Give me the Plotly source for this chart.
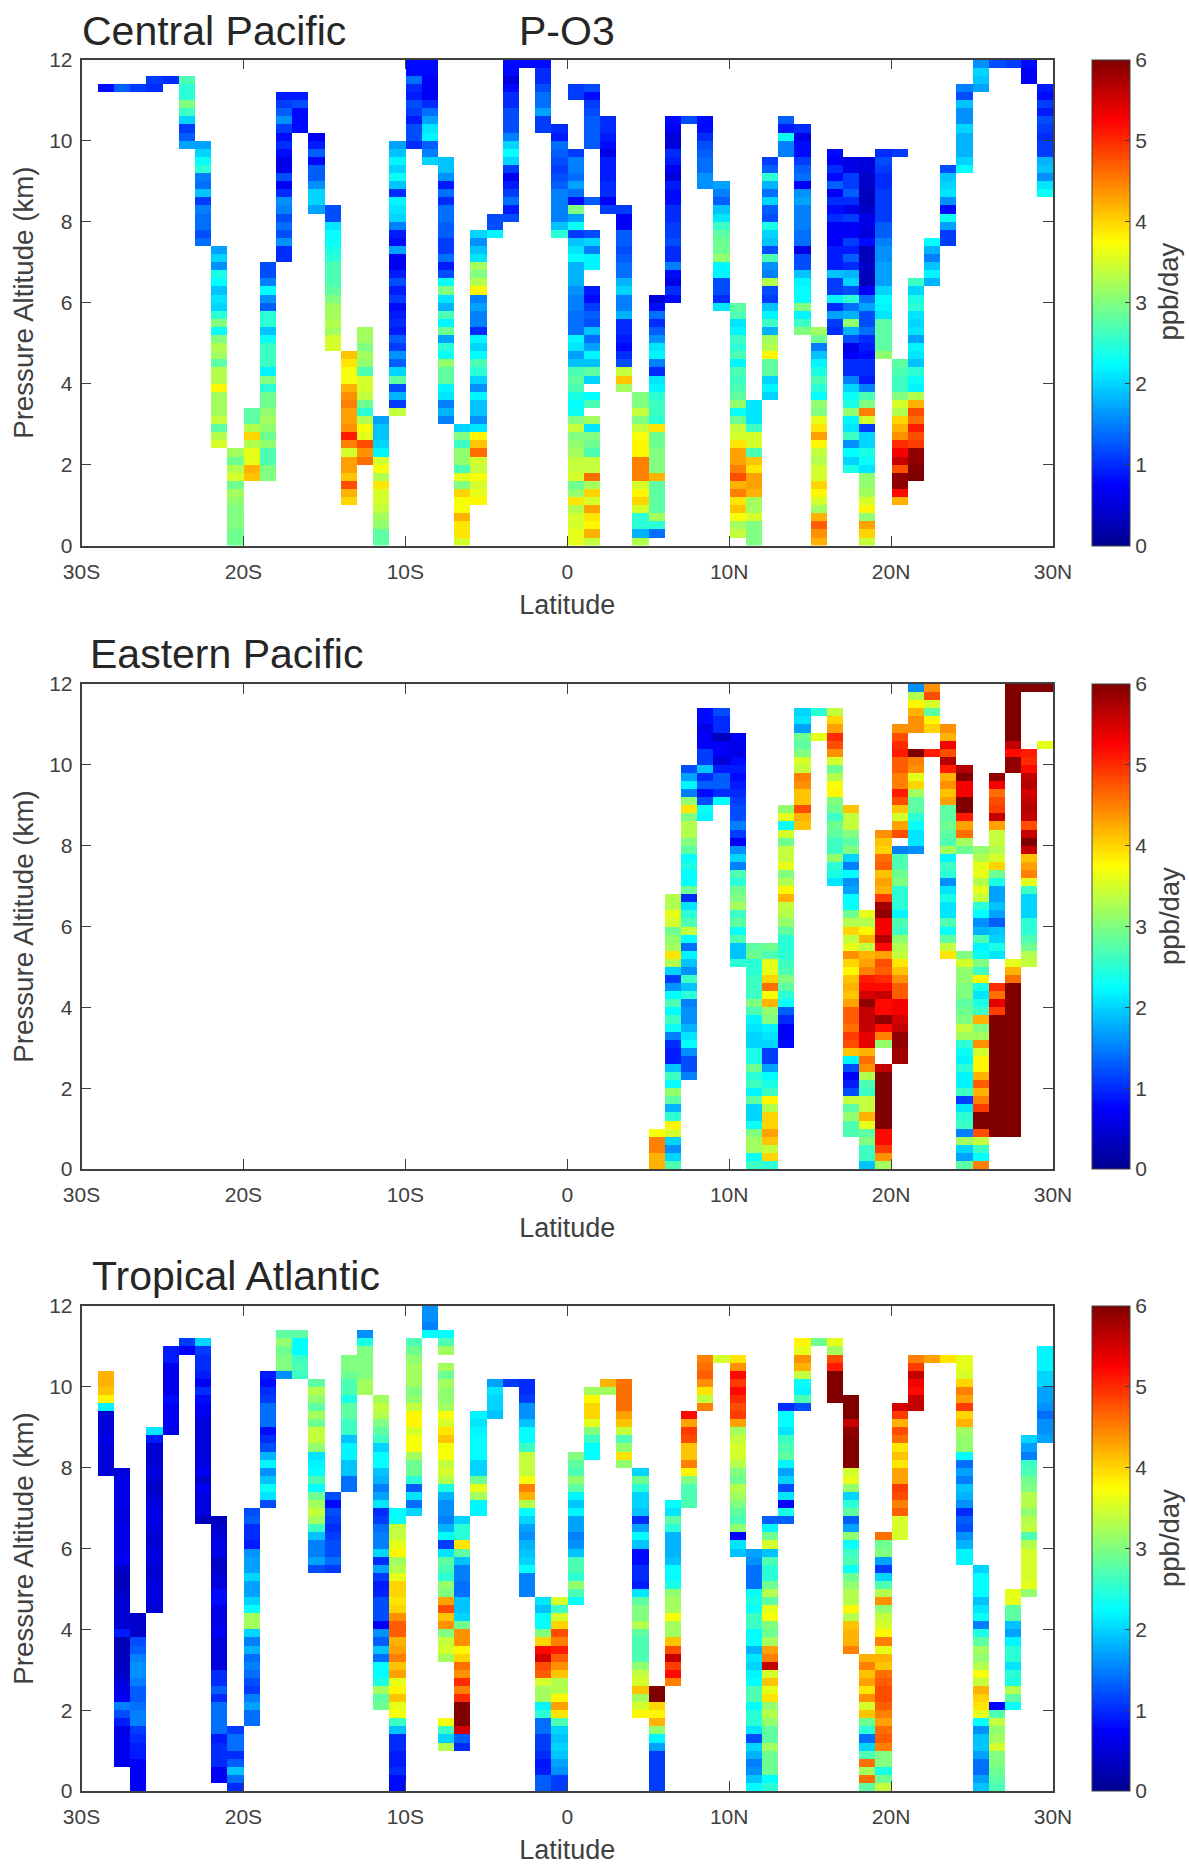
import plotly.graph_objects as go

_ = None
# Each column: (latitude of the cell's south edge, index of its top row counted down from 12 km, values from top to bottom)
# Rows are 0.2 km deep; values are ppb/day.
central_pacific = [
 (-29,3,[.8]),(-28,3,[1.3]),(-27,3,[1.1]),(-26,2,[1.1,1.0]),(-25,2,[1.0]),
 (-24,2,[2.7,2.5,2.5,3.0,2.6,2.0,1.1,1.3,1.7]),
 (-23,10,[1.7,2.0,2.3,2.5,1.5,1.4,1.9,1.1,1.5,1.4,1.4,1.2,1.4]),
 (-22,23,[1.7,2.0,1.6,2.4,2.25,1.9,2.1,2.0,2.5,3.0,2.3,3.0,3.3,3.2,2.8,3.3,3.3,3.8,3.2,3.2,3.2,3.4,2.8,3.3,3.5]),
 (-21,48,[3.2,2.9,3.3,3.5,2.9,3.2,3.1,3.0,3.0,3.0,2.9,2.9]),
 (-20,43,[2.8,2.8,3.3,4.0,3.3,3.6,3.6,4.2,4.1]),
 (-19,25,[1.2,1.2,1.5,2.25,1.6,1.3,2.5,2.5,1.9,2.3,2.6,2.6,2.6,2.2,3.0,2.5,2.9,2.9,3.1,3.2,3.1,2.9,3.1,2.7,2.7,3.0,3.0]),
 (-18,4,[.9,1.1,1.3,1.6,1.1,.8,1.0,.8,.6,.6,1.2,.7,1.0,1.6,1.5,1.2,1.4,1.2,1.6,1.0,1.0]),
 (-17,4,[.9,1.2,.8,.8,.8]),
 (-16,9,[.7,.9,1.3,.8,1.3,1.3,1.6,2.0,2.0,1.7]),
 (-15,18,[1.2,1.2,2.1,2.25,2.3,2.4,2.5,2.7,2.7,2.7,2.8,3.0,3.2,3.2,3.3,3.2,3.5,3.5]),
 (-14,36,[4.1,3.9,3.7,3.7,4.2,4.4,4.5,4.3,4.3,4.4,5.1,4.5,3.5,4.3,4.3,4.1,4.8,4.2,4.0]),
 (-13,33,[3.2,3.2,3.0,3.2,3.1,2.7,3.5,3.5,3.4,2.9,2.5,3.3,3.7,3.6,4.8,4.4,4.6]),
 (-12,44,[1.7,1.9,1.9,2.0,2.2,3.5,3.7,3.3,3.9,3.5,3.5,3.4,3.2,3.1,2.8,2.8]),
 (-11,10,[1.7,1.9,2.2,2.0,2.3,1.9,1.0,2.2,2.1,2.0,1.5,.9,.8,1.7,.7,.7,.9,1.2,.9,1.1,.8,.9,1.0,.9,1.3,1.1,1.6,1.3,2.0,2.8,1.2,1.8,1.1,3.4]),
 (-10,0,[.8,.8,1.4,1.0,.9,1.2,1.1,.9,1.2,1.2,1.0]),
 (-9,0,[.8,.8,.7,.7,.7,1.0,1.4,1.7,2.1,2.2,1.3,1.5,2.0]),
 (-8,12,[1.9,1.9,1.6,.9,1.4,1.0,1.4,1.4,1.3,1.3,1.1,1.1,1.4,.9,1.2,2.3,3.0,2.1,1.8,2.7,2.2,2.9,1.7,2.5,2.3,3.1,2.8,2.8,2.2,2.1,1.5,1.8,1.5]),
 (-7,45,[2.0,3.0,2.6,3.1,3.1,2.7,3.6,3.0,4.0,3.7,3.7,4.2,3.9,3.9,3.5]),
 (-6,21,[2.0,1.6,1.9,2.1,3.2,3.0,3.3,3.8,1.5,1.7,1.5,1.5,1.0,2.2,2.0,2.25,2.7,2.5,2.0,1.6,2.2,1.9,1.9,1.6,2.1,3.8,4.1,4.6,3.5,3.4,3.7,3.5,3.6,3.8]),
 (-5,19,[1.2,1.2,2.2]),
 (-4,0,[.8,.8,.5,.8,1.0,1.0,1.2,1.2,1.2,1.5,2.0,2.25,2.0,1.1,.7,.9,1.1,1.4,.9,1.2]),
 (-3,0,[.8]),
 (-2,0,[.8,1.0,1.0,1.2,1.4,1.4,1.7,1.1,1.1]),
 (-1,8,[1.0,.9,1.4,1.3,1.2,1.1,1.2,1.3,1.5,1.5,1.5,1.5,1.9,2.5]),
 (0,3,[1.1,1.1,_,_,_,_,_,_,1.1,1.5,1.5,1.4,1.7,1.4,.8,3.0,1.7,2.3,1.1,1.9,2.1,2.25,1.8,1.8,1.8,1.6,1.5,1.5,1.4,1.4,1.4,2.2,2.1,1.7,1.9,2.7,2.8,2.7,2.4,2.25,2.3,3.0,3.4,3.0,3.1,3.2,3.4,3.4,3.5,2.9,3.1,3.9,3.3,3.5,3.5,3.6,3.6]),
 (1,3,[1.2,.8,1.1,1.2,1.3,1.3,1.3,1.3,_,_,_,_,_,_,1.3,_,_,_,1.2,2.0,1.5,2.2,2.2,_,_,.9,.8,1.1,1.3,1.2,1.9,1.4,1.7,2.2,1.9,2.8,2.0,_,2.25,2.7,_,3.2,2.1,3.0,2.9,2.7,3.4,3.4,4.6,3.2,4.0,3.5,4.3,3.9,3.8,4.2,3.4]),
 (2,7,[1.0,1.0,.9,.8,.6,.9,.9,.9,1.0,1.0,.7,1.1]),
 (3,18,[1.1,.7,.7,1.3,1.3,1.2,1.3,1.4,1.4,1.8,2.0,1.5,1.5,1.8,1.0,1.0,.9,.8,1.0,1.2,3.4,4.1,3.2]),
 (4,41,[3.0,3.0,3.4,3.0,3.4,3.7,3.8,3.8,4.5,4.5,4.5,3.5,3.8,4.0,3.5,2.5,2.5,1.8,3.3]),
 (5,29,[.5,.8,1.4,1.0,1.3,1.6,2.1,2.2,1.5,1.0,2.1,2.2,2.5,2.6,2.6,2.5,3.9,2.9,2.9,3.0,3.0,3.0,4.2,2.8,2.8,2.8,2.8,3.2,2.5,1.4]),
 (6,7,[.8,.7,.5,.5,1.0,.9,.7,.5,.9,.8,.8,1.0,1.0,1.1,1.1,1.2,1.0,1.0,1.5,.8,.6,1.0,.8]),
 (7,7,[1.2]),
 (8,7,[.8,.8,1.0,1.2,1.3,1.4,1.4,1.6,1.6]),
 (9,15,[1.7,1.5,1.3,1.9,2.1,2.6,2.8,2.9,2.9,3.1,2.2,2.2,1.2,1.2,1.0,2.1]),
 (10,30,[2.8,2.7,2.1,2.2,2.6,2.5,2.7,2.2,2.7,2.6,2.7,2.8,3.1,2.3,2.9,3.4,3.5,3.9,4.3,4.3,4.5,4.8,4.2,4.5,3.9,4.1,3.7,3.2,3.4]),
 (11,42,[2.1,2.1,2.1,2.6,3.5,3.5,2.7,4.1,3.9,4.3,4.3,4.2,3.2,3.2,3.5,3.0,3.0,3.0]),
 (12,12,[1.1,1.3,2.5,1.8,1.4,2.0,1.3,1.2,2.4,2.0,1.9,1.2,2.7,1.6,1.5,3.3,1.2,1.1,1.9,2.2,2.6,1.8,3.2,3.3,3.8,2.8,2.8,2.0,2.2,2.0]),
 (13,7,[1.3,.9,2.3,1.5,1.5]),
 (14,8,[1.0,.6,.8,.8,1.1,1.3,1.4,.7,1.6,1.7,1.5,1.5,1.5,1.4,1.4,.6,1.2,1.2,1.9,2.2,2.25,2.25,3.0,2.2,2.6,3.0]),
 (15,33,[3.2,2.9,1.5,1.9,2.2,2.4,2.7,2.5,2.25,3.1,3.0,3.6,3.9,4.3,3.8,3.4,3.3,3.5,3.5,4.0,3.8,3.5,3.2,4.2,4.7,4.4,4.2]),
 (16,11,[.8,.7,1.0,.8,1.3,.7,1.0,.8,1.0,.7,.7,.7,.9,.9,.9,1.9,1.1,1.1,2.2,1.0,1.7,1.1,1.0]),
 (17,12,[.6,.6,1.1,1.1,1.3,1.0,.6,1.1,.7,.7,1.1,.9,1.3,1.0,1.8,2.0,1.2,2.5,1.4,1.8,3.1,1.8,1.2,.6,.7,1.0,1.0,1.5,2.0,2.3,2.4,3.1,2.2,2.1,2.6,1.6,2.25,2.0,2.4]),
 (18,12,[.5,.5,.4,.4,.35,.3,.4,.6,.6,.5,.8,.3,.3,.4,.3,.3,.7,1.4,1.7,1.2,1.2,1.4,1.0,.9,.8,1.0,1.0,.9,1.5,2.7,3.0,4.5,3.5,1.1,2.0,2.0,2.4,2.3,2.1,3.1,3.1,3.2,3.5,3.8,3.1,4.3,4.0,3.4]),
 (19,11,[1.0,1.2,1.1,1.0,1.0,1.1,1.1,1.1,1.1,1.3,1.3,1.5,1.6,1.6,1.7,1.7,1.7,2.0,2.25,2.2,2.1,2.8,2.8,2.8,2.8,3.1]),
 (20,11,[1.1]),
 (20,37,[2.8,2.7,2.6,2.6,3.0,3.5,3.3,4.0,4.2,4.4,5.0,5.3,5.6,4.8,5.9,5.9,5.2,4.2]),
 (21,27,[2.6,2.0,2.4,2.5,2.1,2.0,2.1,1.7,2.2,2.1,1.9,2.5,2.3,2.2,3.3,4.2,4.8,4.6,5.1,4.8,4.9,5.9,5.9,6,6]),
 (22,22,[2.25,1.8,1.5,1.9,2.2,1.8]),
 (23,13,[1.2,1.9,2.0,2.1,1.6,.8,2.3,1.7,1.1,1.1]),
 (24,3,[1.5,1.2,1.9,1.6,1.6,2.0,1.8,1.8,1.8,2.0,2.25]),
 (25,0,[1.6,2.0,1.9,1.7]),
 (26,0,[1.2]),(27,0,[1.1]),(28,0,[.8,.7,.7]),
 (29,3,[.9,.8,1.1,.9,1.2,1.1,1.0,1.1,1.1,1.8,1.9,1.6,2.1,2.3]),
]

eastern_pacific = [
 (5,55,[3.7,4.5,4.5,4.2,4.2]),
 (6,26,[3.3,3.3,3.6,3.5,2.9,3.1,3.2,3.9,3.3,2.0,1.1,1.6,2.25,2.7,2.25,2.6,2.3,1.5,1.0,.9,.9,1.9,2.6,2.25,3.1,2.8,1.8,2.5,3.8,3.5,2.0,1.6,2.0,2.7]),
 (7,10,[1.2,1.7,2.2,1.5,3.1,3.9,3.0,3.3,3.3,3.0,2.8,2.3,2.4,2.25,2.25,2.9,1.0,2.1,2.5,2.7,3.4,2.25,1.4,2.2,1.9,1.6,2.6,1.9,2.5,1.5,1.6,1.6,1.8,2.1,2.25,1.6,1.2,1.2,1.5]),
 (8,3,[.8,.8,.6,.7,.7,1.1,1.1,1.9,1.0,1.3,.8,1.2,2.3,2.2]),
 (9,3,[1.2,1.0,1.0,.3,.7,.7,.5,.9,1.3,1.3,1.0,2.25]),
 (10,6,[.7,.6,.6,.8,.9,.8,.9,1.0,1.1,1.2,1.2,1.5,1.1,.7,1.6,2.0,1.5,2.7,2.5,2.9,3.0,3.2,2.6,2.8,2.3,2.7,1.9,1.9,2.5]),
 (11,32,[2.8,2.9,2.5,2.5,2.6,2.6,2.6,3.0,2.7,2.2,2.1,2.0,2.0,2.4,2.4,2.9,2.5,2.6,2.2,2.8,2.0,2.0,2.3,3.0,3.2,3.2,2.3,2.6]),
 (12,32,[2.9,2.7,3.6,3.6,4.0,4.6,3.7,4.2,3.1,3.0,2.2,2.1,2.0,1.1,1.1,1.7,2.25,2.4,2.6,3.8,3.3,4.0,4.0,4.3,4.1,3.4,4.0,2.5]),
 (13,15,[3.1,3.6,2.3,3.5,2.9,3.4,3.4,3.6,3.0,3.3,3.8,4.2,3.4,3.3,3.1,2.8,2.5,2.5,2.5,2.6,2.7,3.0,2.8,2.5,2.3,1.3,1.0,.7,.7,.8]),
 (14,3,[2.0,2.1,1.7,2.9,2.8,3.0,3.5,3.4,4.5,4.4,4.1,4.1,4.8,4.2,4.1]),
 (15,3,[2.5,_,_,3.6]),
 (16,3,[3.4,4.0,4.3,5.0,4.8,4.4,3.5,2.9,3.3,3.7,3.8,3.0,2.9,2.6,2.9,2.8,2.6,2.6,3.1,2.5,2.4,2.1]),
 (17,15,[4.1,3.4,3.4,3.0,2.8,3.0,2.0,1.5,2.25,1.6,1.7,2.25,2.25,2.9,3.3,4.0,3.4,3.6,4.4,4.0,3.8,4.1,4.2,4.1,4.3,4.7,4.7,4.6,4.9,4.8,4.1,2.2,1.2,.75,.9,1.2,3.4,2.8,3.1,2.7,2.7]),
 (18,28,[3.6,3.3,3.8,4.2,3.4,4.2,4.3,4.5,5.1,5.2,5.5,5.9,5.6,5.6,5.6,5.4,5.4,4.2,4.6,4.4,3.3,2.7,2.6,3.4,3.4,4.2,3.6,2.8,3.0,2.6,2.6,1.9]),
 (19,18,[4.4,4.1,4.0,4.6,4.7,4.1,4.3,4.2,4.9,5.8,5.9,5.3,5.3,5.7,5.2,4.3,4.8,4.7,5.0,5.2,5.6,5.2,5.2,5.9,5.2,4.5,3.1,_,_,5.6,6,6,6,6,6,6,6,5.2,5.2,4.9,4.4,3.2]),
 (20,5,[4.4,4.8,5.0,5.1,4.7,4.7,4.5,4.5,5.1,4.8,4.1,3.5,4.3,4.8,_,1.5,2.7,2.7,2.9,3.0,2.5,2.5,2.5,2.2,2.7,2.6,3.1,3.3,3.4,3.9,4.1,4.4,4.7,4.7,5.3,5.3,5.5,5.6,5.9,5.9,5.8,5.8]),
 (21,0,[1.6,3.3,3.8,4.2,4.4,4.4,_,_,6,4.5,4.4,3.6,4.0,3.2,2.8,2.8,2.5,2.3,2.1,2.1,1.6]),
 (22,0,[4.4,4.8,3.5,2.8,3.8,4.0,_,_,5.1]),
 (23,5,[4.4,4.2,5.3,4.8,5.7,5.1,4.2,4.4,4.1,4.3,2.8,2.8,2.9,2.8,2.7,3.2,2.2,2.6,2.5,1.6,2.1,2.4,2.1,2.1,2.7,2.3,2.8,3.4,3.9]),
 (24,10,[5.7,6,5.3,5.3,6,6,5.1,4.3,4.6,3.2,2.9]),
 (24,33,[3.0,3.5,3.1,3.1,3.0,3.0,2.8,2.9,3.0,3.4,3.2,2.5,2.3,2.2,2.5,2.2,2.2,2.6,1.1,2.1,2.5,2.6,1.5,3.2,2.0,1.7,2.8]),
 (25,20,[3.1,3.3,3.6,3.6,3.3,3.6,3.4,2.5,2.25,1.6,1.8,2.7,2.2,2.3,3.0,2.6,3.8,2.4,2.1,2.4,2.6,4.2,3.0,3.2,4.4,3.5,3.8,3.8,4.2,4.7,4.2,4.5,4.9,6,6,4.8,3.4,2.6,2.25,4.5]),
 (26,11,[5.9,5.3,4.6,4.8,4.9,5.6,4.3,3.4,3.4,3.3,3.5,4.0,2.9,2.4,1.7,1.7,1.9,1.7,1.3,1.9,2.0,2.4,2.1]),
 (26,37,[5.0,4.6,5.4,4.9,6,6,6,6,6,6,6,6,6,6,6,6,6,6,6]),
 (27,0,[6,6,6,6,6,6,6,5.6,5.2,5.9,5.9]),
 (27,34,[3.6,4.2,4.6,6,6,6,6,6,6,6,6,6,6,6,6,6,6,6,6,6,6,6]),
 (28,0,[6,_,_,_,_,_,_,_,5.1,5.0,5.2,5.6,5.7,5.5,5.6,5.7,5.6,4.8,5.6,6,5.6,4.1,4.3,4.5,3.6,2.6,2.0,2.0,2.0,2.5,2.5,2.7,2.9,3.3,3.4]),
 (29,0,[6,_,_,_,_,_,_,3.6]),
]

tropical_atlantic = [
 (-29,8,[4.2,4.2,4.1,3.8,2.2,.5,.5,.5,.6,.5,.5,.5,.5]),
 (-28,20,[.5,.6,.6,.6,.6,.55,.55,.6,.6,.6,.6,.7,.4,.3,.3,.4,.45,.45,.45,.45,.9,.25,.3,.3,.35,.4,.5,.6,.7,1.5,1.2,.9,.6,.65,.65,.65,.65]),
 (-27,38,[.4,.4,.4,1.2,1.3,1.5,1.6,1.6,1.5,1.3,1.3,1.4,1.5,1.5,1.1,1.0,.9,.9,.7,.7,.7,.7]),
 (-26,15,[2.1,.9,.45,.45,.45,.55,.45,.35,.45,.55,.6,.6,.55,.45,.45,.55,.55,.45,.45,.55,.55,.55,.45]),
 (-25,5,[.9,.9,.65,.65,.65,.65,.8,.7,.7,.7,.6]),
 (-24,4,[1.1,.75]),
 (-23,4,[2.0,1.1,1.0,1.0,.9,.7,1.0,.8,.7,.65,.5,.5,.5,.5,.55,.55,.7,.45,.7,.55,.55,.55,.3]),
 (-22,26,[.35,.4,.5,.6,.6,.4,.4,.5,.55,.8,.8,.6,.6,.6,.7,.5,.5,.5,.5,1.0,1.0,1.3,1.0,1.4,1.4,1.4,1.4,.9,1.0,1.0,1.0,.7,.7]),
 (-21,52,[1.1,1.4,1.4,1.0,1.3,1.9,1.4,1.0]),
 (-20,25,[1.2,1.3,1.0,1.0,.9,1.6,1.7,1.7,2.0,1.7,1.7,2.0,2.25,3.2,3.2,2.0,1.5,1.8,1.4,1.5,1.4,1.2,1.1,1.5,1.7,1.4,1.4]),
 (-19,8,[.9,.8,1.0,1.1,1.4,1.4,1.4,.8,1.0,1.2,1.8,2.2,1.6,1.9,2.3,2.1,1.2]),
 (-18,3,[2.8,3.1,2.9,3.0,3.0,1.6]),
 (-17,3,[2.8,2.25,2.25,2.6,2.7,2.6]),
 (-16,9,[2.8,3.3,3.1,2.8,3.2,2.9,3.4,3.4,3.1,2.1,2.2,2.25,2.7,2.25,2.9,3.2,3.4,3.2,2.6,1.9,1.5,1.5,1.7,1.2]),
 (-15,23,[1.2,.8,1.2,1.1,1.0,1.1,1.2,1.2,1.4,1.1]),
 (-14,6,[3.0,3.0,2.9,2.7,2.7,2.4,2.8,2.8,2.6,2.6,1.9,2.2,2.2,1.9,1.9,1.4,1.4]),
 (-13,3,[1.6,2.4,3.0,3.0,3.0,3.0,3.2,3.2]),
 (-12,11,[3.2,3.4,3.3,3.0,2.8,2.6,2.0,2.25,2.25,1.9,1.8,1.5,1.7,2.1,1.0,1.1,1.4,1.5,1.5,2.0,1.0,1.7,1.1,.9,.95,1.2,1.2,1.2,.7,1.6,1.3,1.9,1.4,2.25,2.25,2.4,3.2,2.8,2.9]),
 (-11,25,[2.25,2.3,3.4,3.4,3.6,3.8,3.2,3.3,3.6,4.0,4.0,3.9,4.0,4.4,4.7,4.7,4.2,4.3,4.5,4.1,4.3,3.6,3.8,4.1,3.6,3.7,2.6,1.9,1.0,1.0,.9,.9,1.0,.8,.8]),
 (-10,4,[2.7,2.9,3.1,3.2,3.2,3.2,3.0,3.1,3.4,3.8,3.8,3.5,3.7,3.7,3.2,2.9,2.9,2.5,1.3,2.1,1.4,2.0]),
 (-9,0,[1.6,1.6,1.5,2.25]),
 (-8,3,[2.25,2.7,3.2,_,3.2,2.9,3.2,3.1,3.1,3.2,3.7,3.5,3.9,4.1,3.7,3.7,3.4,3.5,3.3,2.4,1.8,1.6,1.6,1.5,1.8,2.25,1.1,2.1,2.8,2.7,2.5,3.1,3.0,4.3,4.8,4.1,4.4,3.0,3.4,3.5,3.2]),
 (-8,51,[3.7,2.6,2.0,3.3]),
 (-7,26,[2.0,2.5,2.5,3.9,2.8,1.9,1.5,1.5,1.4,1.4,1.9,1.9,2.0,2.9,4.4,4.4,3.8,4.0,4.6,4.4,5.0,4.5,5.0,6,6,6,5.5,1.3,1.0]),
 (-6,13,[2.2,2.1,2.2,2.25,2.25,2.25,2.0,2.0,2.9,3.6,3.2,2.2,2.2]),
 (-5,9,[1.7,2.1,2.0,2.0,1.9]),
 (-4,9,[1.1]),
 (-3,9,[1.0,1.0,1.1,1.6,1.6,1.9,2.25,2.25,2.6,3.4,3.4,3.4,3.7,4.5,4.2,3.3,2.25,2.0,1.7,1.6,1.8,1.9,2.0,2.25,1.5,1.5,1.5]),
 (-2,36,[2.1,1.9,2.25,2.25,3.0,4.0,5.2,5.5,4.8,4.7,3.5,3.2,3.2,2.2,2.5,1.4,1.4,1.1,1.1,1.0,.85,.9,1.3,1.3]),
 (-1,36,[3.5,2.6,3.5,4.0,4.8,4.5,5.1,4.7,4.4,4.1,3.3,3.3,3.8,4.3,3.9,2.7,2.0,1.9,2.0,1.9,1.7,1.6,1.1,1.1]),
 (0,18,[3.0,2.8,2.7,3.1,2.8,2.2,1.9,2.2,1.7,1.7,1.5,1.6,1.9,2.7,2.7,2.5,3.1,2.7,2.3]),
 (1,10,[3.2,3.8,4.0,4.0,3.6,3.0,2.6,2.25,2.25]),
 (2,9,[4.2,3.2]),
 (3,9,[4.6,4.6,4.6,4.6,4.3,4.1,3.4,2.7,3.1,3.9,3.1]),
 (4,20,[2.0,2.9,2.5,2.0,2.0,1.9,1.0,1.7,2.25,1.9,.8,.8,1.0,1.0,.9,2.1,2.8,3.0,3.0,3.3,2.8,2.7,2.7,2.7,3.1,3.4,3.5,4.1,3.2,3.5,3.8]),
 (5,47,[6,6,4.0,3.8,4.2,3.1,2.2,1.7,1.1,1.1,1.1,1.1,1.1]),
 (6,24,[2.25,2.1,2.8,2.5,1.8,1.8,1.8,1.9,2.25,2.25,2.4,3.1,3.2,3.2,3.7,3.2,3.2,4.1,4.8,5.6,4.9,5.2,4.5]),
 (7,13,[5.2,4.3,4.9,4.8,4.1,4.1,4.5,3.8,3.0,2.7,2.7,2.7]),
 (8,6,[4.5,4.6,4.7,4.4,3.9,3.4,4.5]),
 (9,6,[3.5]),
 (10,6,[3.9,4.4,5.2,4.9,5.2,5.0,4.8,4.9,4.3,3.2,3.4,3.5,3.5,3.3,3.0,2.9,3.3,3.2,3.0,2.8,2.7,3.1,.75,2.1,1.9]),
 (11,30,[1.7,1.6,1.4,1.4,1.4,2.3,2.4,2.3,2.6,2.6,2.25,2.25,1.8,2.1,2.0,2.2,2.25,2.7,2.7,2.25,2.5,2.5,2.1,1.2,2.0,1.8,1.5,1.6,1.9,2.25]),
 (12,26,[1.3,2.2,2.9,3.5,1.9,2.7,2.5,2.5,2.9,3.3,2.8,3.6,3.7,3.0,2.9,3.2,4.3,4.5,5.6,3.5,4.1,3.6,3.9,3.1,3.3,3.1,2.8,2.8,3.2,2.9,2.9,2.9,2.25,2.5]),
 (13,12,[1.0,2.25,2.25,2.1,2.6,2.7,2.8,2.2,1.7,2.0,1.2,2.1,.75,2.4,1.3]),
 (14,4,[3.8,3.6,4.4,4.2,3.4,2.3,2.2,2.7,1.2]),
 (15,4,[2.9]),
 (16,4,[3.6,3.2,4.8,5.1,6,6,6,6]),
 (17,11,[6,6,6,5.6,5.9,6,6,6,6,3.5,3.6,3.1,2.0,2.5,2.8,1.3,1.7,3.1,2.3,2.6,2.7,2.3,2.9,3.1,3.3,3.3,3.8,3.3,4.1,4.2,4.2,4.5]),
 (18,43,[4.2,4.5,4.1,4.3,3.9,4.4,3.5,4.1,2.9,2.5,1.4,2.0,2.7,4.6,3.2,4.6,2.8]),
 (19,28,[4.6,2.9,3.0,1.7,1.1,2.0,2.7,3.3,4.4,3.1,3.4,3.5,3.8,4.5,3.6,4.2,4.1,4.6,4.7,4.8,4.8,4.7,4.5,4.3,4.6,4.7,4.5,3.0,3.0,2.4,2.9,3.4]),
 (20,12,[5.5,4.9,4.2,4.8,4.6,3.9,4.1,3.9,4.3,4.3,4.9,4.8,4.5,4.7,3.5,3.5,3.5]),
 (21,6,[4.5,4.9,5.6,5.3,5.2,5.6,5.6]),
 (22,6,[4.3]),(23,6,[3.9]),
 (24,6,[3.6,3.6,3.5,4.0,4.5,4.3,4.9,4.0,4.2,3.2,3.1,3.1,2.25,1.4,1.7,1.5,1.9,1.8,1.6,1.0,1.3,1.2,1.6,1.8,2.2,2.2]),
 (25,32,[2.0,2.25,2.25,2.25,1.9,2.1,2.3,1.5,2.4,2.8,3.2,3.1,3.3,3.7,3.4,4.2,4.0,3.9,3.6,2.25,1.6,1.9,1.9,1.7,1.4,1.4,1.7,1.9]),
 (26,49,[.75,2.7,3.4,3.1,3.2,3.5,3.0,3.0,2.9,2.8,2.7]),
 (27,35,[3.6,3.6,2.8,2.8,1.9,1.7,2.2,2.5,2.5,2.1,2.5,2.4,3.3,2.8,2.3]),
 (28,16,[2.0,1.7,1.5,2.6,2.7,2.9,3.0,3.3,3.3,3.1,3.3,3.4,2.7,3.3,3.5,3.5,3.5,3.5,3.6,3.1]),
 (29,5,[2.2,2.2,2.2,2.0,2.0,1.7,1.7,1.6,1.4,1.6,1.6,1.7]),
]

panel_titles = ["Central Pacific", "Eastern Pacific", "Tropical Atlantic"]
lat_ticks = [-30, -20, -10, 0, 10, 20, 30]
lat_labels = ["30S", "20S", "10S", "0", "10N", "20N", "30N"]
alt_ticks = [0, 2, 4, 6, 8, 10, 12]
cb_ticks = [0, 1, 2, 3, 4, 5, 6]
lat_edges = list(range(-30, 31))
alt_edges = [i / 5 for i in range(61)]

W, H = 1189, 1865
AX_L, AX_R = 81.5, 1053
CB_L, CB_R = 1092, 1130
PANELS = [(59.6, 545.7), (684, 1169), (1306, 1791)]
TITLE_POS = [(80, 31), (88, 654), (90, 1276)]
TICK = "#404040"
TXT = "#262626"
FONT = "Liberation Sans"
JET = [[0, "rgb(0,0,143)"], [.125, "rgb(0,0,255)"], [.375, "rgb(0,255,255)"],
       [.625, "rgb(255,255,0)"], [.875, "rgb(255,0,0)"], [1, "rgb(128,0,0)"]]


def grid(columns):
    z = [[None] * 60 for _ in range(60)]
    for lat, top, vals in columns:
        for k, v in enumerate(vals):
            r = top + k
            if v is not None and r < 60:
                z[59 - r][lat + 30] = v
    return z


fig = go.Figure()
annotations = []
for i, (data, (top, bot)) in enumerate(zip([central_pacific, eastern_pacific, tropical_atlantic], PANELS)):
    n = "" if i == 0 else str(i + 1)
    fig.add_trace(go.Heatmap(
        x=lat_edges, y=alt_edges, z=grid(data), xaxis="x" + n, yaxis="y" + n,
        colorscale=JET, zmin=0, zmax=6, hoverongaps=False,
        colorbar=dict(
            x=CB_L / W, xanchor="left", xpad=0, ypad=0,
            y=1 - (top + bot) / 2 / H, yanchor="middle",
            lenmode="pixels", len=bot - top,
            thicknessmode="pixels", thickness=CB_R - CB_L,
            outlinecolor=TICK, outlinewidth=1,
            tickmode="array", tickvals=cb_ticks, ticks="inside", ticklen=5,
            tickcolor=TICK, tickfont=dict(family=FONT, size=21, color=TICK),
        ),
    ))
    axis_common = dict(showgrid=False, zeroline=False, showline=True, linecolor=TICK, linewidth=1.5,
                       mirror="ticks", ticks="inside", ticklen=10, tickcolor=TICK, tickwidth=1,
                       tickfont=dict(family=FONT, size=21, color=TICK))
    fig.update_layout({
        "xaxis" + n: dict(axis_common, domain=[AX_L / W, AX_R / W], range=[-30, 30], anchor="y" + n,
                          tickmode="array", tickvals=lat_ticks, ticktext=lat_labels, ticklabelstandoff=6,
                          title=dict(text="Latitude", font=dict(family=FONT, size=27, color=TICK), standoff=13)),
        "yaxis" + n: dict(axis_common, domain=[1 - bot / H, 1 - top / H], range=[0, 12], anchor="x" + n,
                          tickmode="array", tickvals=alt_ticks, ticklabelstandoff=3,
                          title=dict(text="Pressure Altitude (km)", font=dict(family=FONT, size=27.7, color=TICK), standoff=7)),
    })
    tx, ty = TITLE_POS[i]
    annotations.append(dict(text=panel_titles[i], x=tx / W, y=1 - ty / H, xref="paper", yref="paper",
                            xanchor="left", yanchor="middle", showarrow=False,
                            font=dict(family=FONT, size=41, color=TXT)))
    annotations.append(dict(text="ppb/day", x=1169 / W, y=1 - (top + 232) / H, xref="paper", yref="paper",
                            xanchor="center", yanchor="middle", textangle=-90, showarrow=False,
                            font=dict(family=FONT, size=27.5, color=TICK)))

annotations.append(dict(text="P-O3", x=567 / W, y=1 - 31 / H, xref="paper", yref="paper",
                        xanchor="center", yanchor="middle", showarrow=False,
                        font=dict(family=FONT, size=41, color=TXT)))

fig.update_layout(width=W, height=H, margin=dict(l=0, r=0, t=0, b=0, autoexpand=False),
                  paper_bgcolor="white", plot_bgcolor="white", annotations=annotations, showlegend=False)

fig.write_html("out.html", config={"displayModeBar": False},
               post_script="document.body.style.margin='0';document.body.style.overflow='hidden';")
